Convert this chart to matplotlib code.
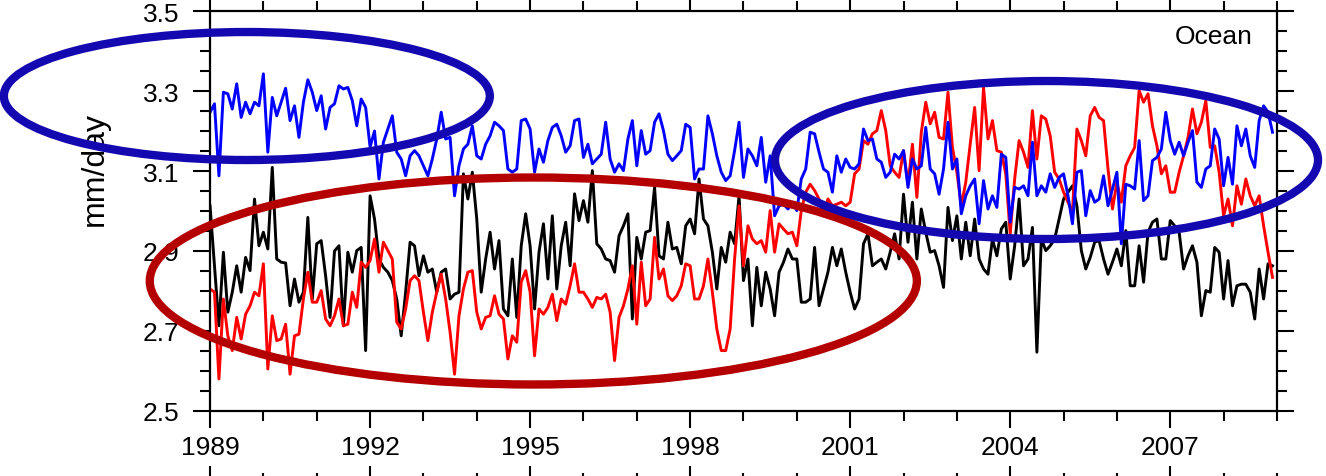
import numpy as np
import matplotlib
matplotlib.use("Agg")
import matplotlib.pyplot as plt
from matplotlib.patches import Ellipse
from matplotlib.ticker import MultipleLocator

# monthly values Jan 1989 - Dec 2008 (mm/day)
blue_vals = [
    3.247, 3.268, 3.088, 3.297, 3.293, 3.255, 3.318, 3.234, 3.272, 3.243, 3.272, 3.263,
    3.343, 3.147, 3.284, 3.238, 3.272, 3.307, 3.226, 3.263, 3.184, 3.272, 3.328, 3.297,
    3.251, 3.288, 3.205, 3.259, 3.268, 3.313, 3.305, 3.309, 3.276, 3.213, 3.280, 3.259,
    3.160, 3.200, 3.080, 3.172, 3.205, 3.238, 3.147, 3.130, 3.088, 3.138, 3.151, 3.138,
    3.113, 3.088, 3.130, 3.180, 3.247, 3.180, 3.184, 3.038, 3.113, 3.155, 3.167, 3.213,
    3.138, 3.130, 3.167, 3.188, 3.222, 3.213, 3.201, 3.105, 3.097, 3.105, 3.226, 3.230,
    3.205, 3.097, 3.155, 3.122, 3.176, 3.209, 3.217, 3.188, 3.147, 3.163, 3.226, 3.230,
    3.134, 3.167, 3.118, 3.130, 3.142, 3.222, 3.130, 3.097, 3.118, 3.101, 3.180, 3.226,
    3.113, 3.201, 3.142, 3.151, 3.222, 3.243, 3.201, 3.142, 3.126, 3.138, 3.151, 3.217,
    3.209, 3.080, 3.105, 3.105, 3.238, 3.193, 3.138, 3.097, 3.076, 3.088, 3.151, 3.222,
    3.084, 3.155, 3.138, 3.113, 3.184, 3.072, 3.138, 2.988, 3.013, 3.017, 3.005, 3.022,
    3.001, 3.080, 3.105, 3.197, 3.193, 3.147, 3.105, 3.097, 3.047, 3.138, 3.097, 3.130,
    3.109, 3.105, 3.118, 3.205, 3.176, 3.180, 3.130, 3.122, 3.084, 3.097, 3.142, 3.130,
    3.151, 3.059, 3.130, 3.105, 3.113, 3.209, 3.105, 3.093, 3.042, 3.105, 3.222, 3.105,
    3.130, 2.993, 3.038, 3.063, 3.080, 2.968, 3.076, 3.005, 3.038, 3.009, 3.142, 3.134,
    2.972, 3.059, 3.055, 3.063, 3.038, 3.172, 3.038, 3.063, 3.047, 3.093, 3.059, 3.084,
    3.093, 3.038, 2.968, 3.097, 3.101, 2.988, 3.051, 3.022, 3.030, 3.088, 3.013, 3.055,
    3.097, 2.918, 3.067, 3.063, 3.055, 3.176, 3.026, 3.038, 3.126, 3.134, 3.155, 3.247,
    3.176, 3.142, 3.172, 3.138, 3.172, 3.201, 3.072, 3.059, 3.105, 3.113, 3.205, 3.180,
    3.063, 3.134, 3.067, 3.213, 3.163, 3.205, 3.138, 3.109, 3.226, 3.263, 3.247, 3.197,
]

black_vals = [
    3.013, 2.863, 2.713, 2.897, 2.747, 2.797, 2.863, 2.797, 2.884, 2.851, 3.030, 2.913,
    2.947, 2.905, 3.109, 2.880, 2.872, 2.870, 2.763, 2.830, 2.772, 2.797, 2.984, 2.780,
    2.918, 2.926, 2.838, 2.734, 2.900, 2.913, 2.713, 2.897, 2.847, 2.901, 2.909, 2.651,
    3.038, 2.980, 2.880, 2.859, 2.847, 2.826, 2.780, 2.688, 2.797, 2.922, 2.913, 2.838,
    2.888, 2.847, 2.855, 2.797, 2.847, 2.855, 2.780, 2.792, 2.797, 3.093, 3.030, 3.097,
    2.980, 2.797, 2.880, 2.947, 2.855, 2.926, 2.755, 2.738, 2.880, 2.734, 2.913, 2.993,
    2.913, 2.755, 2.897, 2.968, 2.830, 2.988, 2.805, 2.913, 2.972, 2.863, 3.043, 2.976,
    3.026, 2.972, 3.101, 2.918, 2.905, 2.880, 2.876, 2.847, 2.938, 2.963, 2.993, 2.730,
    2.934, 2.880, 2.947, 2.951, 3.059, 2.888, 2.880, 2.972, 2.905, 2.909, 2.868, 2.963,
    2.980, 2.943, 3.080, 2.980, 2.963, 2.897, 2.805, 2.909, 2.872, 2.947, 2.918, 3.038,
    2.826, 2.880, 2.713, 2.859, 2.763, 2.847, 2.805, 2.738, 2.847, 2.872, 2.905, 2.880,
    2.880, 2.772, 2.772, 2.780, 2.909, 2.763, 2.805, 2.847, 2.909, 2.863, 2.905, 2.847,
    2.797, 2.755, 2.780, 2.918, 2.943, 2.863, 2.872, 2.880, 2.855, 2.897, 2.943, 2.880,
    3.042, 2.922, 3.022, 2.880, 3.005, 2.947, 2.897, 2.901, 2.863, 2.809, 3.009, 2.926,
    2.988, 2.880, 2.972, 2.888, 2.980, 2.880, 2.855, 2.842, 2.930, 2.888, 2.955, 2.972,
    2.830, 2.913, 3.030, 2.863, 2.880, 2.959, 2.647, 2.930, 2.901, 2.913, 2.930, 2.980,
    3.030, 3.047, 3.063, 3.013, 2.901, 2.855, 2.884, 2.922, 2.926, 2.880, 2.842, 2.872,
    2.905, 2.863, 2.951, 2.813, 2.813, 2.913, 2.822, 2.947, 2.972, 2.980, 2.880, 2.880,
    2.976, 2.963, 2.947, 2.855, 2.888, 2.913, 2.872, 2.738, 2.801, 2.797, 2.909, 2.897,
    2.780, 2.876, 2.763, 2.813, 2.817, 2.817, 2.797, 2.730, 2.855, 2.780, 2.868, 2.863,
]

red_vals = [
    2.805, 2.797, 2.580, 2.780, 2.688, 2.651, 2.734, 2.680, 2.742, 2.763, 2.797, 2.788,
    2.868, 2.605, 2.738, 2.676, 2.680, 2.717, 2.592, 2.688, 2.692, 2.780, 2.847, 2.772,
    2.772, 2.801, 2.730, 2.713, 2.738, 2.780, 2.713, 2.717, 2.797, 2.759, 2.872, 2.859,
    2.876, 2.930, 2.847, 2.922, 2.901, 2.880, 2.722, 2.705, 2.755, 2.826, 2.838, 2.826,
    2.747, 2.676, 2.747, 2.797, 2.842, 2.780, 2.697, 2.592, 2.738, 2.805, 2.847, 2.851,
    2.747, 2.705, 2.734, 2.738, 2.788, 2.742, 2.730, 2.630, 2.688, 2.672, 2.822, 2.851,
    2.797, 2.638, 2.755, 2.742, 2.759, 2.792, 2.726, 2.780, 2.767, 2.813, 2.868, 2.797,
    2.797, 2.780, 2.759, 2.784, 2.780, 2.792, 2.747, 2.626, 2.734, 2.763, 2.805, 2.863,
    2.717, 2.872, 2.763, 2.780, 2.934, 2.830, 2.855, 2.788, 2.776, 2.788, 2.813, 2.868,
    2.863, 2.780, 2.780, 2.813, 2.880, 2.797, 2.705, 2.651, 2.651, 2.705, 2.880, 3.013,
    2.863, 2.963, 2.930, 2.918, 2.926, 2.897, 3.001, 2.897, 2.968, 2.955, 2.943, 2.947,
    2.913, 3.001, 3.047, 3.067, 3.051, 3.030, 2.988, 3.030, 3.013, 3.017, 3.022, 3.013,
    3.022, 3.093, 3.105, 3.176, 3.167, 3.193, 3.201, 3.251, 3.201, 3.113, 3.097, 3.084,
    3.151, 3.067, 3.167, 3.034, 3.197, 3.272, 3.218, 3.247, 3.184, 3.180, 3.297, 3.159,
    3.097, 3.013, 3.072, 3.167, 3.259, 3.101, 3.309, 3.180, 3.226, 3.151, 3.147, 3.093,
    2.943, 3.080, 3.176, 3.147, 3.109, 3.251, 3.130, 3.238, 3.230, 3.188, 3.097, 3.080,
    3.047, 3.022, 2.997, 3.205, 3.176, 3.138, 3.238, 3.259, 3.234, 3.226, 3.105, 3.005,
    3.072, 3.022, 3.113, 3.138, 3.159, 3.301, 3.272, 3.293, 3.213, 3.163, 3.093, 3.113,
    3.047, 3.047, 3.097, 3.138, 3.184, 3.255, 3.193, 3.222, 3.276, 3.159, 3.163, 3.097,
    2.988, 3.030, 2.963, 3.063, 3.017, 3.080, 3.038, 3.013, 3.038, 2.963, 2.897, 2.834,
]

year_ticks = [1989, 1992, 1995, 1998, 2001, 2004, 2007]
y_ticks = [2.5, 2.7, 2.9, 3.1, 3.3, 3.5]
panel_label = "Ocean"
y_label = "mm/day"

plt.rcParams['font.family'] = ['Liberation Sans', 'DejaVu Sans']

months = 1989 + np.arange(len(blue_vals)) / 12.0

fig = plt.figure(figsize=(13.26, 4.77), dpi=100)
ax = fig.add_axes([0.1584, 0.1363, 0.8046, 0.8385])

ax.plot(months, black_vals, color='black', lw=2.1)
ax.plot(months, red_vals, color='#ff0000', lw=2.1)
ax.plot(months, blue_vals, color='#0000ff', lw=2.1)

ax.set_xlim(1989, 2009)
ax.set_ylim(2.5, 3.5)
ax.set_xticks(year_ticks)
ax.set_yticks(y_ticks)
ax.set_yticklabels([f"{v:.1f}" for v in y_ticks])
ax.xaxis.set_minor_locator(MultipleLocator(1))
ax.yaxis.set_minor_locator(MultipleLocator(0.05))
ax.tick_params(which='both', direction='out', top=True, right=True, width=1.5)
ax.tick_params(which='major', length=12, labelsize=19, pad=5)
ax.tick_params(axis='y', which='major', pad=10)
ax.tick_params(which='minor', length=7)
for s in ax.spines.values():
    s.set_linewidth(1.6)

ax.set_ylabel(y_label, fontsize=23)
ax.yaxis.set_label_coords(-0.094, 0.607)
ax.text(0.977, 0.9375, panel_label, transform=ax.transAxes, ha='right',
        va='center', fontsize=19)

# hand drawn highlight ellipses
ell = [
    (1989.69, 3.2875, 9.11, 0.32, '#1408b0'),
    (1995.06, 2.825, 14.38, 0.5175, '#b40000'),
    (2004.68, 3.1275, 10.18, 0.395, '#1408b0'),
]
for cx, cy, w, h, c in ell:
    ax.add_patch(Ellipse((cx, cy), w, h, fill=False, ec=c, lw=6,
                         clip_on=False, zorder=5))

# top of the next panel, cut off by the image edge
ax2 = fig.add_axes([0.1584, -0.0147 - 0.8385, 0.8046, 0.8385])
ax2.set_xlim(1989, 2009)
ax2.set_ylim(2.3, 2.7)
ax2.set_xticks(year_ticks)
ax2.set_xticklabels([])
ax2.set_yticks([2.7])
ax2.set_yticklabels(["2.7"])
ax2.xaxis.set_minor_locator(MultipleLocator(1))
ax2.tick_params(which='both', direction='out', top=True, right=True, width=1.5)
ax2.tick_params(which='major', length=12, labelsize=19, pad=10)
ax2.tick_params(which='minor', length=7)
for s in ax2.spines.values():
    s.set_linewidth(1.6)

fig.savefig("out.png", dpi=100)
